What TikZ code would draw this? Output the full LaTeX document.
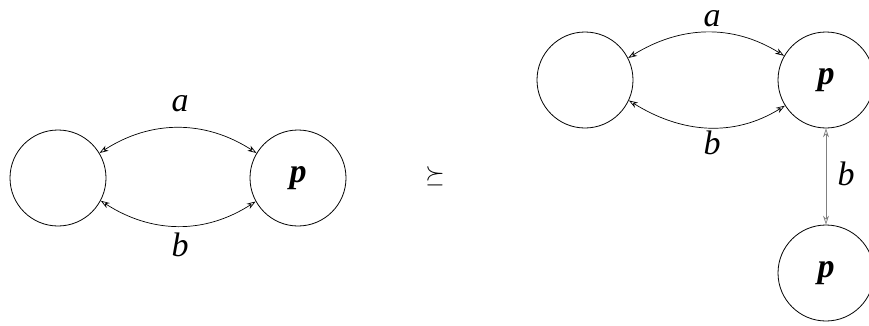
\documentclass[tikz,border=0pt]{standalone}
\usepackage{amssymb}
\usepackage{fontspec}
\setmainfont{Liberation Serif}
\usetikzlibrary{arrows.meta}
\begin{document}
\begin{tikzpicture}[x=1pt,y=1pt,
  state/.style={draw,circle,minimum size=96pt,inner sep=0pt,line width=0.8pt,
    font=\fontsize{34}{40}\selectfont\bfseries\itshape},
  link/.style={line width=0.7pt,{Stealth[open,length=9pt,width=6pt]}-{Stealth[open,length=9pt,width=6pt]}},
  glink/.style={link,draw=black!50},
  lbl/.style={font=\fontsize{34}{40}\selectfont\itshape,inner sep=0pt}]
\useasboundingbox (0,0) rectangle (869,325);
% left diagram
\node[state] (L1) at (58,147) {};
\node[state] (L2) at (298,147) {p};
\draw[link] (L1.31) to[out=33,in=147] (L2.149);
\draw[link] (L1.-28) to[out=-33,in=-147] (L2.-151);
\node[lbl] (la) at (180,221) {a};
\node[lbl] (lb) at (180,80) {b};
% relation
\node[font=\fontsize{38}{44}\selectfont,inner sep=0pt] (rel) at (435,149) {$\succeq$};
% right diagram
\node[state] (A) at (585,245) {};
\node[state] (B) at (826,245) {p};
\node[state] (C) at (826,52) {p};
\draw[link] (A.27) to[out=32,in=148] (B.150);
\draw[link] (A.-25) to[out=-32,in=-148] (B.-148);
\draw[glink] (B.south) -- (C.north);
\node[lbl] (ra) at (712,306) {a};
\node[lbl] (rb) at (712,182) {b};
\node[lbl] (rb2) at (846,151) {b};
\end{tikzpicture}
\end{document}
